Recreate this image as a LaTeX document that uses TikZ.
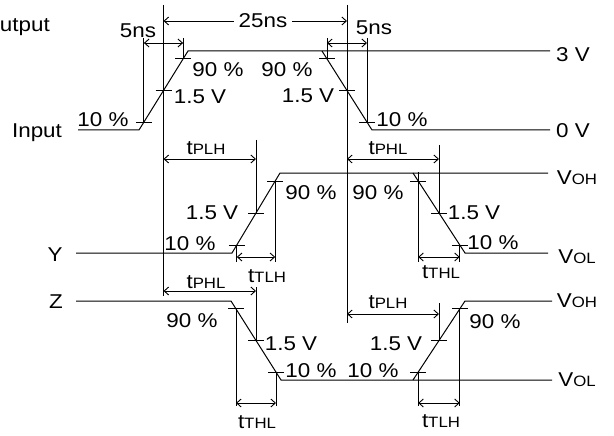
\documentclass[tikz,border=0pt]{standalone}
\usepackage{fontspec}
\setmainfont{Liberation Sans}[FakeStretch=1.12]
\usetikzlibrary{calc,arrows.meta}
\newcommand\lab{\fontsize{20}{24}\selectfont}
\newcommand\lowtxt[1]{{\fontsize{15}{18}\selectfont #1}}
\begin{document}
\begin{tikzpicture}[x=1pt,y=-1pt,
    wave/.style={line width=1pt},
    dimarrow/.style={<->,>={Straight Barb[length=4.5pt,width=8pt]},line width=0.9pt},
    lbl/.style={inner sep=0pt,font=\lab}]
\useasboundingbox (0,0) rectangle (614,436);

% input
\coordinate (ia) at (78,130);
\coordinate (ib) at (139,130);
\coordinate (ic) at (188,51);
\coordinate (id) at (322,51);
\coordinate (ie) at (372,130);
\coordinate (ihi) at (550,51);
\coordinate (ilo) at (550,130);
\draw[wave] (ia) -- (ib) -- (ic) -- (ihi);
\draw[wave] (id) -- (ie) -- (ilo);
\coordinate (ir1) at ($(ib)!0.1!(ic)$);
\coordinate (ir5) at ($(ib)!0.5!(ic)$);
\coordinate (ir9) at ($(ib)!0.9!(ic)$);
\coordinate (if9) at ($(id)!0.1!(ie)$);
\coordinate (if5) at ($(id)!0.5!(ie)$);
\coordinate (if1) at ($(id)!0.9!(ie)$);

% output Y
\coordinate (ya) at (76,253);
\coordinate (yb) at (232,253);
\coordinate (yc) at (280,173);
\coordinate (yd) at (413,173);
\coordinate (ye) at (465,253);
\coordinate (yhi) at (548,173);
\coordinate (ylo) at (548,253);
\draw[wave] (ya) -- (yb) -- (yc) -- (yhi);
\draw[wave] (yd) -- (ye) -- (ylo);
\coordinate (yr1) at ($(yb)!0.1!(yc)$);
\coordinate (yr5) at ($(yb)!0.5!(yc)$);
\coordinate (yr9) at ($(yb)!0.9!(yc)$);
\coordinate (yf9) at ($(yd)!0.1!(ye)$);
\coordinate (yf5) at ($(yd)!0.5!(ye)$);
\coordinate (yf1) at ($(yd)!0.9!(ye)$);

% output Z
\coordinate (za) at (76,301);
\coordinate (zb) at (231,301);
\coordinate (zc) at (281,380);
\coordinate (zd) at (413,380);
\coordinate (ze) at (465,301);
\coordinate (zlo) at (552,380);
\coordinate (zhi) at (552,301);
\draw[wave] (za) -- (zb) -- (zc) -- (zlo);
\draw[wave] (zd) -- (ze) -- (zhi);
\coordinate (zf9) at ($(zb)!0.1!(zc)$);
\coordinate (zf5) at ($(zb)!0.5!(zc)$);
\coordinate (zf1) at ($(zb)!0.9!(zc)$);
\coordinate (zr1) at ($(zd)!0.1!(ze)$);
\coordinate (zr5) at ($(zd)!0.5!(ze)$);
\coordinate (zr9) at ($(zd)!0.9!(ze)$);

% ticks
\foreach \p in {ir1,ir5,ir9,if9,if5,if1,yr1,yr5,yr9,yf9,yf5,yf1,zf9,zf5,zf1,zr1,zr5,zr9}
    \draw[wave] (\p) ++(-8,0) -- ++(16,0);

% input timing
\draw[wave] (ir5 |- 0,5) -- (ir5 |- 0,296);
\draw[wave] (if5 |- 0,5) -- (if5 |- 0,323);
\draw[wave] (ir1 |- 0,38) -- (ir1);
\draw[wave] (ir9 |- 0,38) -- (ir9);
\draw[wave] (if9 |- 0,38) -- (if9);
\draw[wave] (if1 |- 0,38) -- (if1);
\draw[dimarrow] (ir1 |- 0,43) -- (ir9 |- 0,43);
\draw[dimarrow] (if9 |- 0,43) -- (if1 |- 0,43);
\draw[dimarrow] (ir5 |- 0,21) -- node[lbl,fill=white,inner xsep=5pt,inner ysep=2pt,pos=0.542] (t25) {25ns} (if5 |- 0,21);

% Y timing
\draw[wave] (yr5 |- 0,140) -- (yr5);
\draw[dimarrow] (ir5 |- 0,159) -- (yr5 |- 0,159);
\draw[wave] (yr1) -- (yr1 |- 0,262);
\draw[wave] (yr9) -- (yr9 |- 0,262);
\draw[dimarrow] (yr1 |- 0,257) -- (yr9 |- 0,257);
\draw[wave] (yf5 |- 0,145) -- (yf5);
\draw[dimarrow] (if5 |- 0,159) -- (yf5 |- 0,159);
\draw[wave] (yf9 |- 0,172) -- (yf9 |- 0,262);
\draw[wave] (yf1) -- (yf1 |- 0,262);
\draw[dimarrow] (yf9 |- 0,257) -- (yf1 |- 0,257);

% Z timing
\draw[wave] (zf5 |- 0,287) -- (zf5);
\draw[dimarrow] (ir5 |- 0,291) -- (zf5 |- 0,291);
\draw[wave] (zf9) -- (zf9 |- 0,406);
\draw[wave] (zf1) -- (zf1 |- 0,406);
\draw[dimarrow] (zf9 |- 0,403) -- (zf1 |- 0,403);
\draw[wave] (zr5 |- 0,303) -- (zr5);
\draw[dimarrow] (if5 |- 0,314) -- (zr5 |- 0,314);
\draw[wave] (zr1) -- (zr1 |- 0,406);
\draw[wave] (zr9) -- (zr9 |- 0,406);
\draw[dimarrow] (zr1 |- 0,403) -- (zr9 |- 0,403);

% labels
\node[lbl,anchor=east] (output) at (50,27) {Output};
\node[lbl] (input) at (37,133) {Input};
\node[lbl] (ylab) at (55,255) {Y};
\node[lbl] (zlab) at (56,302) {Z};
\node[lbl] (t5a) at (138,31) {5ns};
\node[lbl] (t5b) at (374,28) {5ns};
\node[lbl] (v3) at (573,55) {3 V};
\node[lbl] (v0) at (573,131) {0 V};
\node[lbl] (in90a) at (218,70) {90 \%};
\node[lbl] (in90b) at (287,70) {90 \%};
\node[lbl] (in15a) at (200,97) {1.5 V};
\node[lbl] (in15b) at (308,96) {1.5 V};
\node[lbl] (in10a) at (103,120) {10 \%};
\node[lbl] (in10b) at (402,120) {10 \%};

\node[lbl] (yplh) at (206,148) {t\lowtxt{PLH}};
\node[lbl] (y15a) at (212,213) {1.5 V};
\node[lbl] (y10a) at (190,244) {10 \%};
\node[lbl] (y90a) at (311,193) {90 \%};
\node[lbl] (ytlh) at (267,276) {t\lowtxt{TLH}};
\node[lbl] (yphl) at (388,148) {t\lowtxt{PHL}};
\node[lbl] (y90b) at (378,193) {90 \%};
\node[lbl] (y15b) at (474,213) {1.5 V};
\node[lbl] (y10b) at (493,243) {10 \%};
\node[lbl] (ythl) at (441,272) {t\lowtxt{THL}};
\node[lbl] (yvoh) at (577,178) {V\lowtxt{OH}};
\node[lbl] (yvol) at (577,257) {V\lowtxt{OL}};

\node[lbl] (zphl) at (206,282) {t\lowtxt{PHL}};
\node[lbl] (z90a) at (192,321) {90 \%};
\node[lbl] (z15a) at (291,344) {1.5 V};
\node[lbl] (z10a) at (311,371) {10 \%};
\node[lbl] (zthl) at (257,422) {t\lowtxt{THL}};
\node[lbl] (zplh) at (388,302) {t\lowtxt{PLH}};
\node[lbl] (z15b) at (396,344) {1.5 V};
\node[lbl] (z10b) at (373,371) {10 \%};
\node[lbl] (z90b) at (495,322) {90 \%};
\node[lbl] (ztlh) at (441,421) {t\lowtxt{TLH}};
\node[lbl] (zvoh) at (577,301) {V\lowtxt{OH}};
\node[lbl] (zvol) at (577,380) {V\lowtxt{OL}};
\end{tikzpicture}
\end{document}
